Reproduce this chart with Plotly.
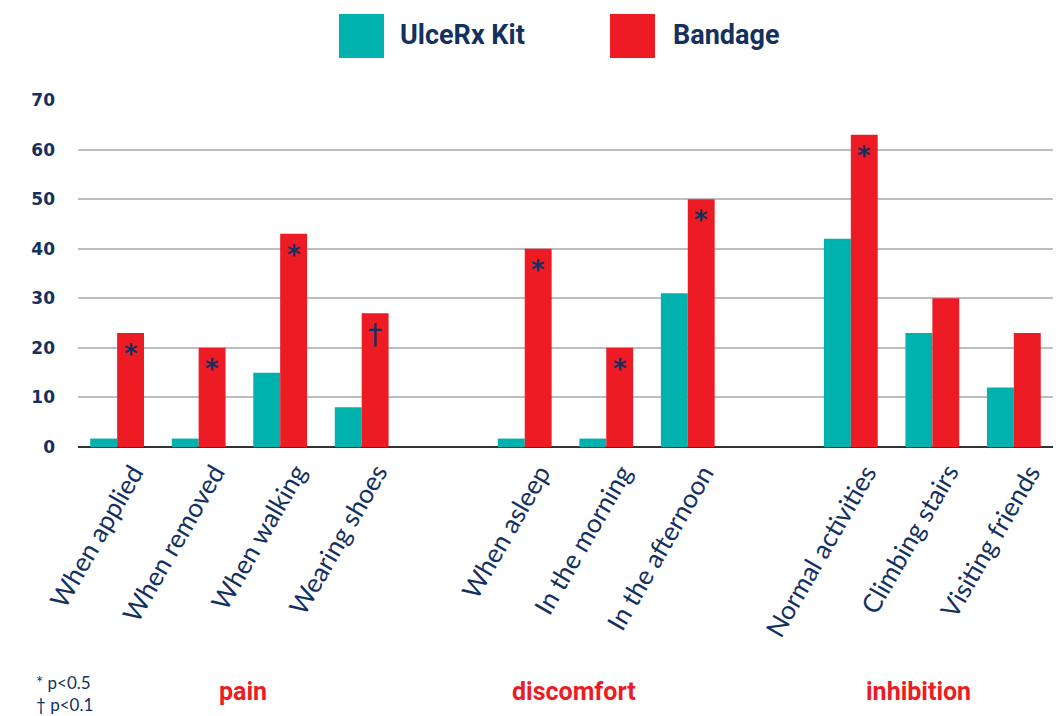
import plotly.graph_objects as go

categories = ["When applied", "When removed", "When walking", "Wearing shoes",
              "When asleep", "In the morning", "In the afternoon",
              "Normal activities", "Climbing stairs", "Visiting friends"]
positions = [0, 1, 2, 3, 5, 6, 7, 9, 10, 11]
ulcerx = [1.7, 1.7, 15, 8, 1.7, 1.7, 31, 42, 23, 12]
bandage = [23, 20, 43, 27, 40, 20, 50, 63, 30, 23]
marks = ["*", "*", "*", "†", "*", "*", "*", "*", "", ""]
groups = ["pain", "discomfort", "inhibition"]
group_x = [1.55, 5.6, 9.83]
y_ticks = [0, 10, 20, 30, 40, 50, 60, 70]

TEAL = "#00B2AE"
RED = "#ED1C24"
NAVY = "#14305F"

W, H = 1061, 716
L, R, T, B = 78, 8, 100, 269
PW, PH = W - L - R, H - T - B


def px(x):
    return (x - L) / PW


def py(y):
    return (H - B - y) / PH


fig = go.Figure()
fig.add_bar(x=positions, y=ulcerx, name="UlceRx Kit", marker=dict(color=TEAL, line=dict(width=0)))
fig.add_bar(x=positions, y=bandage, name="Bandage", marker=dict(color=RED, line=dict(width=0)))

annotations = []
for p, v, m in zip(positions, bandage, marks):
    if m:
        annotations.append(dict(x=p + 0.165, y=v, xref="x", yref="y", text=m, showarrow=False,
                                yanchor="middle", yshift=-21,
                                font=dict(family="DejaVu Sans", size=26 if m == "*" else 28,
                                          color=NAVY, weight="bold" if m == "*" else "normal")))

# category labels, rotated
for p, c in zip(positions, categories):
    annotations.append(dict(x=p, y=0, xref="x", yref="y", text=c, showarrow=False,
                            textangle=-60, xanchor="right", yanchor="top",
                            xshift=35, yshift=-9,
                            font=dict(family="Lato", size=26, color=NAVY)))

for g, gx in zip(groups, group_x):
    annotations.append(dict(x=gx, y=py(691), xref="x", yref="paper", text=g, showarrow=False,
                            xanchor="center", yanchor="middle",
                            font=dict(family="Roboto", size=25, color=RED, weight="bold")))

annotations.append(dict(x=px(34), y=py(682), xref="paper", yref="paper", text="* p<0.5",
                        showarrow=False, xanchor="left", yanchor="middle",
                        font=dict(family="Lato", size=17, color=NAVY)))
annotations.append(dict(x=px(34), y=py(704), xref="paper", yref="paper", text="† p<0.1",
                        showarrow=False, xanchor="left", yanchor="middle",
                        font=dict(family="Lato", size=17, color=NAVY)))

# legend
shapes = []
for (x0, x1, col, label, tx) in [(339, 384, TEAL, "UlceRx Kit", 398), (610, 655, RED, "Bandage", 671)]:
    shapes.append(dict(type="rect", xref="paper", yref="paper", x0=px(x0), x1=px(x1),
                       y0=py(58), y1=py(14), fillcolor=col, line=dict(width=0)))
    annotations.append(dict(x=px(tx), y=py(35), xref="paper", yref="paper", text=label,
                            showarrow=False, xanchor="left", yanchor="middle",
                            font=dict(family="Roboto", size=27, color=NAVY, weight="bold")))

fig.update_layout(
    width=W, height=H,
    margin=dict(l=L, r=R, t=T, b=B, autoexpand=False),
    paper_bgcolor="white", plot_bgcolor="white",
    barmode="group", bargap=0.34, bargroupgap=0,
    showlegend=False,
    annotations=annotations, shapes=shapes,
    xaxis=dict(range=[-0.48, 11.48], tickvals=positions, showticklabels=False,
               showgrid=False, zeroline=False, showline=False, ticks=""),
    yaxis=dict(range=[0, 70], tickvals=y_ticks, showgrid=True, gridcolor="#BDBDC3", gridwidth=2,
               zeroline=True, zerolinecolor="#333333", zerolinewidth=2, showline=False,
               ticks="", ticklabelstandoff=22,
               tickfont=dict(family="DejaVu Sans", size=17, color=NAVY, weight="bold")),
)

fig.write_html("out.html", config={"displayModeBar": False},
               post_script="document.body.style.margin='0';document.body.style.overflow='hidden';")
